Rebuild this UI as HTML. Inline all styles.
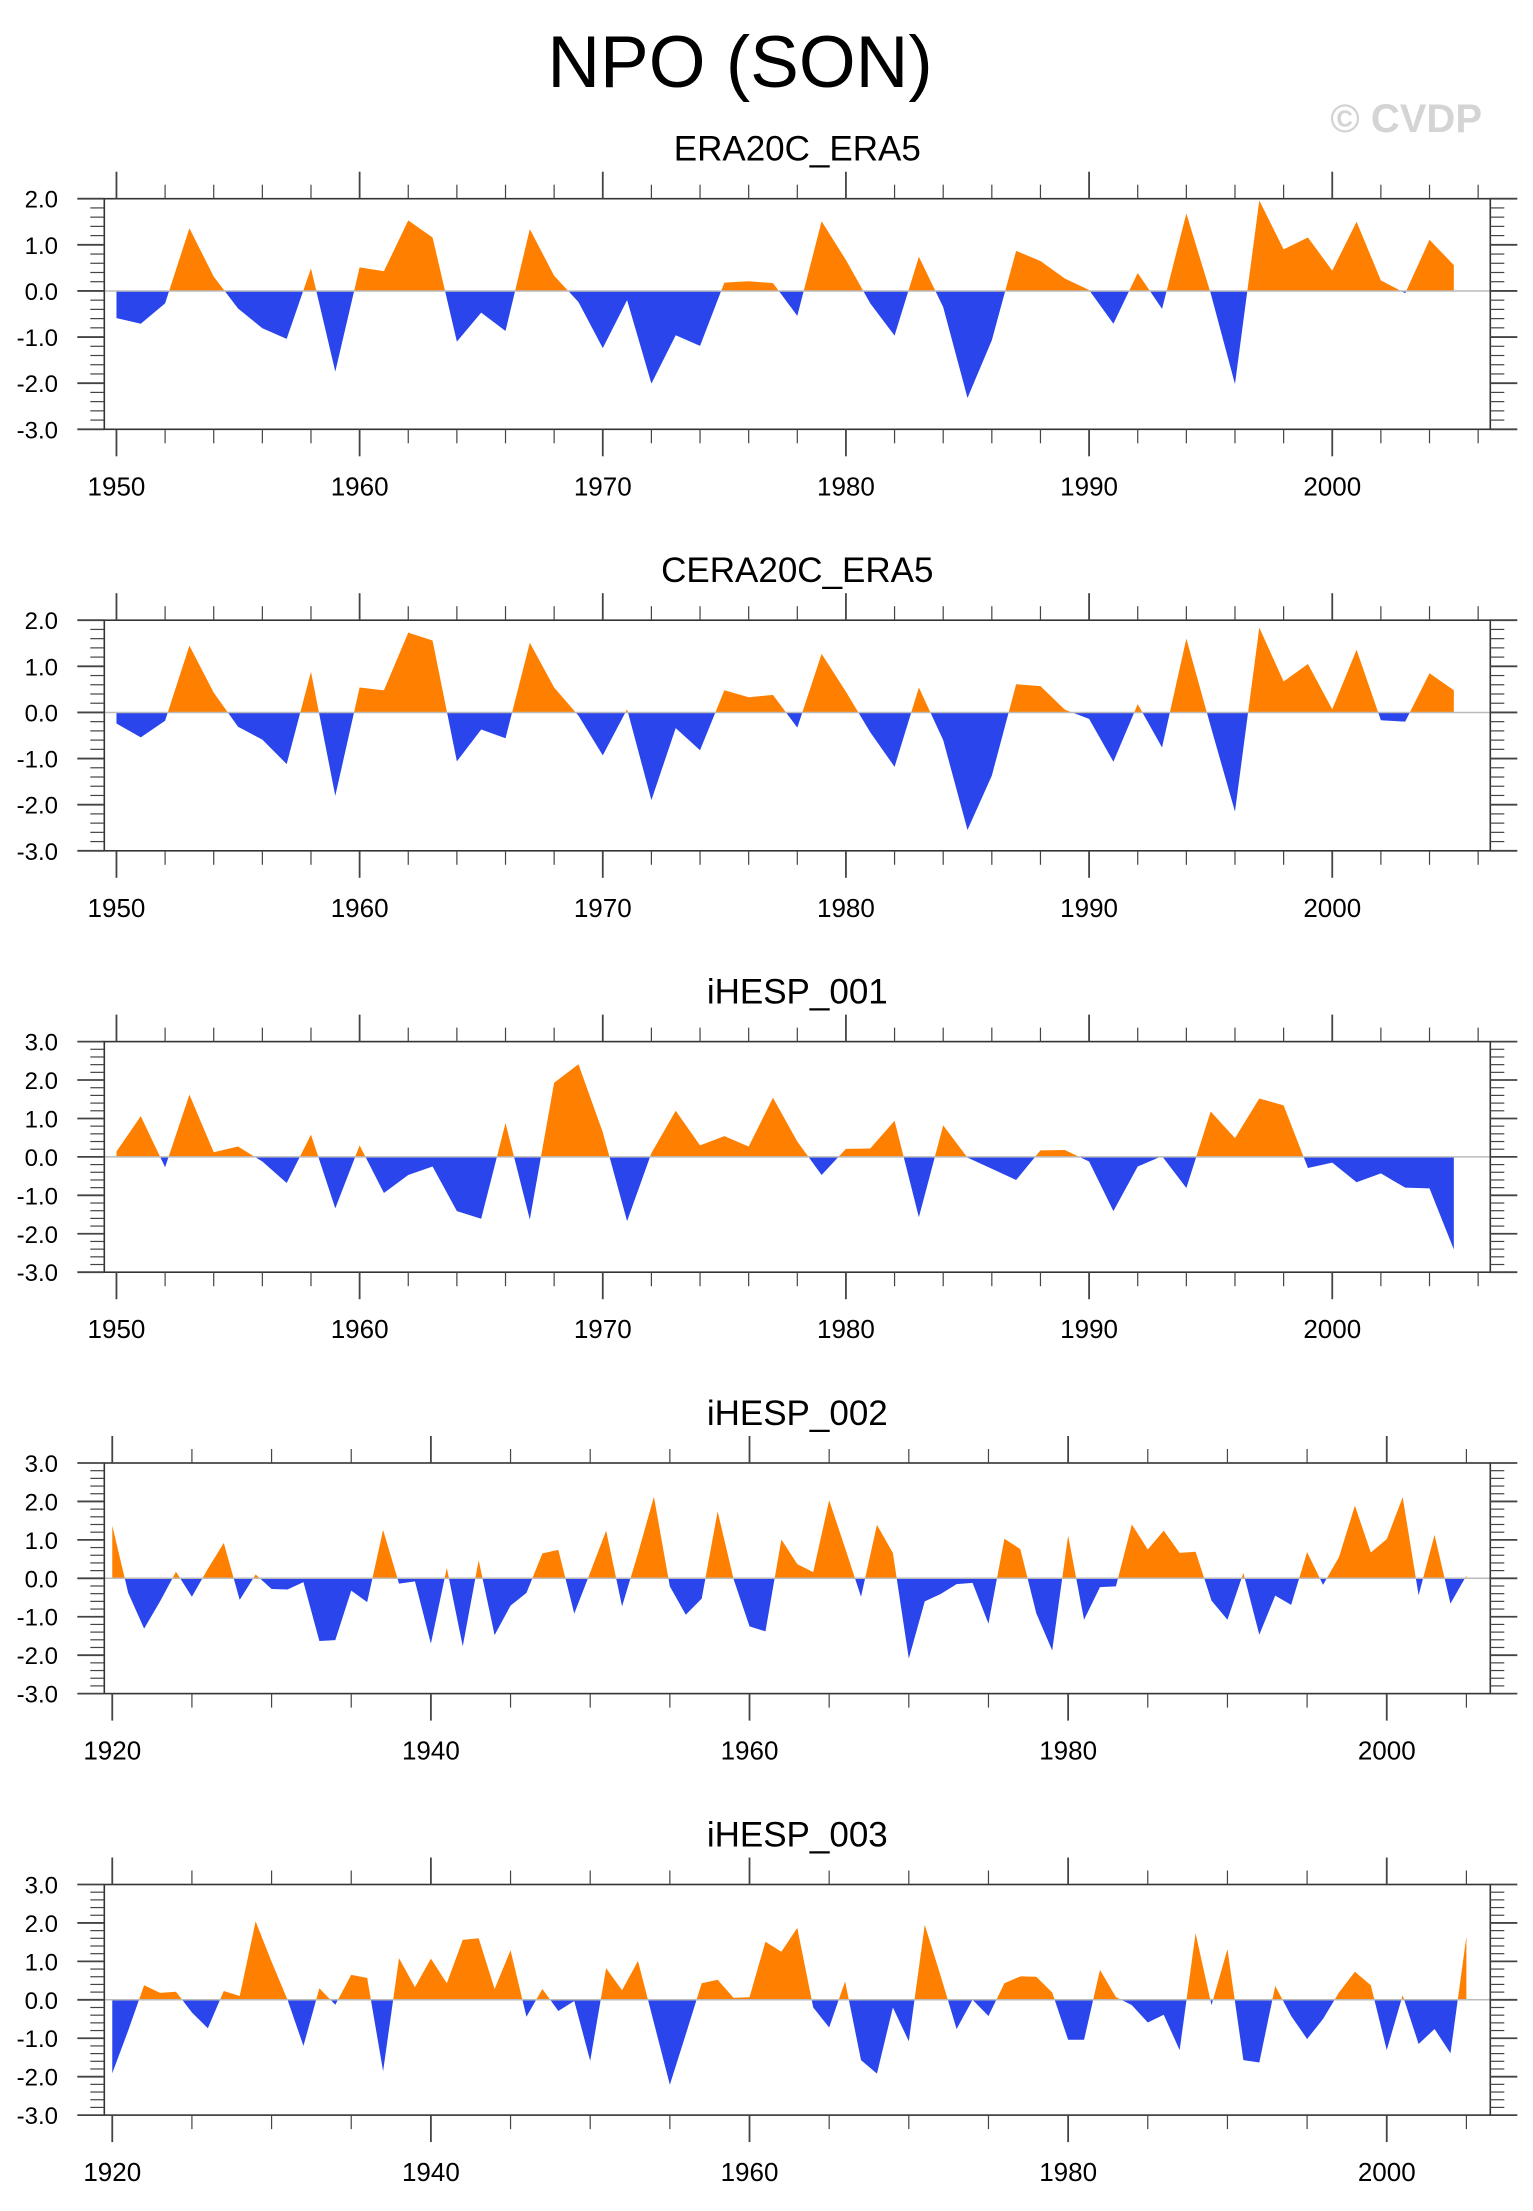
<!DOCTYPE html>
<html><head><meta charset="utf-8"><style>
html,body{margin:0;padding:0;background:#fff;}
svg{display:block;}
text{font-family:"Liberation Sans",Arial,sans-serif;fill:#000;}
</style></head><body>
<svg id="fig" width="1533" height="2211" viewBox="0 0 1533 2211">
<text x="740" y="87" font-size="73" text-anchor="middle">NPO (SON)</text>
<text x="1482" y="132" font-size="40" font-weight="bold" text-anchor="end" style="fill:#d4d4d4">© CVDP</text>
</svg>
<script>
const titles = ["ERA20C_ERA5","CERA20C_ERA5","iHESP_001","iHESP_002","iHESP_003"];
const startYears = [1950,1950,1950,1920,1920];
const yMins = [-3,-3,-3,-3,-3];
const yMaxs = [2,2,3,3,3];
const xMajorSteps = [10,10,10,20,20];
const xMinorSteps = [2,2,2,5,5];
const seriesEra20c = [-0.59,-0.71,-0.27,1.36,0.31,-0.38,-0.81,-1.04,0.49,-1.75,0.51,0.43,1.53,1.16,-1.10,-0.47,-0.87,1.34,0.33,-0.24,-1.24,-0.20,-2.01,-0.96,-1.19,0.18,0.21,0.17,-0.54,1.51,0.67,-0.27,-0.97,0.74,-0.35,-2.32,-1.07,0.87,0.65,0.27,0.02,-0.71,0.39,-0.39,1.68,-0.05,-2.02,1.96,0.90,1.16,0.44,1.50,0.23,-0.05,1.11,0.56];
const seriesCera20c = [-0.24,-0.54,-0.18,1.45,0.43,-0.31,-0.59,-1.12,0.88,-1.81,0.54,0.48,1.73,1.56,-1.06,-0.37,-0.56,1.51,0.54,-0.07,-0.93,0.07,-1.90,-0.34,-0.82,0.48,0.33,0.38,-0.33,1.27,0.45,-0.43,-1.18,0.54,-0.60,-2.55,-1.37,0.61,0.57,0.06,-0.14,-1.07,0.18,-0.76,1.60,-0.30,-2.15,1.84,0.67,1.05,0.07,1.36,-0.17,-0.20,0.85,0.48];
const seriesIhesp001 = [0.14,1.06,-0.27,1.62,0.12,0.27,-0.12,-0.68,0.58,-1.34,0.30,-0.94,-0.47,-0.25,-1.41,-1.61,0.88,-1.63,1.93,2.41,0.64,-1.67,0.10,1.20,0.30,0.54,0.27,1.54,0.40,-0.47,0.21,0.22,0.94,-1.57,0.82,-0.02,-0.31,-0.60,0.17,0.18,-0.12,-1.41,-0.25,0.02,-0.81,1.18,0.49,1.52,1.34,-0.29,-0.15,-0.66,-0.43,-0.80,-0.82,-2.41];
const seriesIhesp002 = [1.37,-0.38,-1.31,-0.60,0.17,-0.48,0.25,0.92,-0.56,0.10,-0.28,-0.29,-0.10,-1.63,-1.61,-0.32,-0.62,1.26,-0.14,-0.08,-1.70,0.27,-1.77,0.47,-1.48,-0.71,-0.38,0.65,0.74,-0.92,0.15,1.24,-0.73,0.65,2.12,-0.21,-0.95,-0.53,1.74,-0.02,-1.25,-1.38,1.01,0.37,0.16,2.03,0.79,-0.48,1.39,0.66,-2.09,-0.60,-0.41,-0.15,-0.12,-1.18,1.03,0.76,-0.91,-1.88,1.11,-1.08,-0.23,-0.21,1.40,0.75,1.24,0.66,0.69,-0.58,-1.08,0.14,-1.47,-0.45,-0.69,0.68,-0.17,0.55,1.89,0.67,1.02,2.11,-0.44,1.13,-0.66,0.07];
const seriesIhesp003 = [-1.91,-0.80,0.38,0.18,0.21,-0.33,-0.74,0.23,0.10,2.04,0.99,0.00,-1.20,0.30,-0.13,0.65,0.57,-1.86,1.08,0.33,1.07,0.43,1.56,1.60,0.28,1.29,-0.44,0.28,-0.29,-0.03,-1.59,0.82,0.25,1.01,-0.60,-2.21,-0.90,0.43,0.52,0.05,0.07,1.51,1.25,1.87,-0.20,-0.72,0.48,-1.57,-1.92,-0.20,-1.08,1.95,0.62,-0.76,0.00,-0.42,0.43,0.61,0.60,0.19,-1.04,-1.04,0.78,0.07,-0.14,-0.59,-0.39,-1.31,1.73,-0.14,1.32,-1.57,-1.63,0.36,-0.42,-1.02,-0.50,0.19,0.73,0.38,-1.31,0.12,-1.15,-0.76,-1.39,1.65];
const allSeries = [seriesEra20c,seriesCera20c,seriesIhesp001,seriesIhesp002,seriesIhesp003];

const NS = "http://www.w3.org/2000/svg";
const svg = document.getElementById('fig');
const L = 104.3, R = 1490.3, H = 230.6;
const tops = [198.7, 620.2, 1041.6, 1463.0, 1884.5];
function mk(tag, attrs, parent){const e=document.createElementNS(NS,tag);for(const k in attrs)e.setAttribute(k,attrs[k]);(parent||svg).appendChild(e);return e;}

allSeries.forEach((vals, p) => {
  const top = tops[p], bot = top + H;
  const y0 = startYears[p], y1 = y0 + vals.length - 1;
  const xMin = y0 - 0.5, xMax = y0 + 56.5 + (p >= 3 ? 30 : 0);
  const xs = yr => L + (yr - xMin) / (xMax - xMin) * (R - L);
  const ys = v => top + (yMaxs[p] - v) / (yMaxs[p] - yMins[p]) * H;
  const g = mk('g', {});
  
  
  const t = mk('text', {x:(L+R)/2, y:top-38, 'font-size':35, 'text-anchor':'middle'}, g);
  t.textContent = titles[p];
  
  
  const zy = ys(0);
  const cu = mk('clipPath', {id:'cu'+p}, g); mk('rect', {x:L, y:top, width:R-L, height:zy-top}, cu);
  const cd = mk('clipPath', {id:'cd'+p}, g); mk('rect', {x:L, y:zy, width:R-L, height:bot-zy}, cd);
  let d = 'M' + xs(y0) + ',' + zy;
  vals.forEach((v,i) => { d += ' L' + xs(y0+i).toFixed(2) + ',' + ys(v).toFixed(2); });
  d += ' L' + xs(y1) + ',' + zy + ' Z';
  const pos = mk('path', {d:d, fill:'#ff8000', 'clip-path':'url(#cu'+p+')'}, g);
  
  
  const neg = mk('path', {d:d, fill:'#2a45ec', 'clip-path':'url(#cd'+p+')'}, g);
  
  
  mk('line', {x1:L, x2:R, y1:zy, y2:zy, stroke:'#bbb', 'stroke-width':1.5}, g);
  const fr = mk('rect', {x:L, y:top, width:R-L, height:H, fill:'none', stroke:'#333', 'stroke-width':1.6}, g);
  
  
  for (let yr = Math.ceil(xMin); yr <= xMax; yr++) {
    if (yr % xMinorSteps[p] !== 0) continue;
    const major = yr % xMajorSteps[p] === 0;
    const len = major ? 27 : 14, x = xs(yr);
    mk('line', {x1:x, x2:x, y1:top, y2:top-len, stroke:'#444', 'stroke-width':major?1.8:1.2}, g);
    mk('line', {x1:x, x2:x, y1:bot, y2:bot+len, stroke:'#444', 'stroke-width':major?1.8:1.2}, g);
    if (major) {
      const lb = mk('text', {x:x, y:bot+66, 'font-size':26, 'text-anchor':'middle'}, g);
      lb.textContent = yr;
      
      
    }
  }
  for (let k = Math.round(yMins[p]*5); k <= Math.round(yMaxs[p]*5); k++) {
    const v = k/5, y = ys(v), major = k % 5 === 0;
    const len = major ? 27 : 14;
    mk('line', {x1:L, x2:L-len, y1:y, y2:y, stroke:'#444', 'stroke-width':major?1.8:1.2}, g);
    mk('line', {x1:R, x2:R+len, y1:y, y2:y, stroke:'#444', 'stroke-width':major?1.8:1.2}, g);
    if (major) {
      const lb = mk('text', {x:58, y:y+9, 'font-size':24, 'text-anchor':'end'}, g);
      lb.textContent = v.toFixed(1);
      
      
    }
  }
});
</script>
</body></html>
